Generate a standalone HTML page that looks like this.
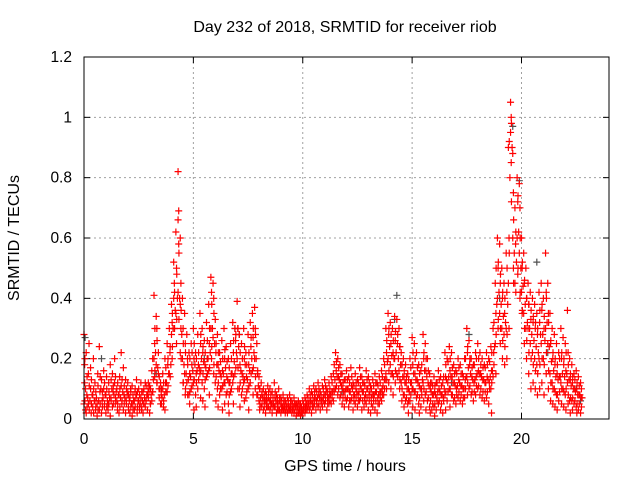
<!DOCTYPE html>
<html><head><meta charset="utf-8">
<style>
body{margin:0;background:#fff;}
svg{display:block;font-family:"Liberation Sans",sans-serif;}
</style></head>
<body>
<svg id="chart" width="640" height="480" viewBox="0 0 640 480">
<text x="345" y="32" font-size="16" text-anchor="middle" fill="#000">Day 232 of 2018, SRMTID for receiver riob</text>
<text x="345" y="471" font-size="16" text-anchor="middle" fill="#000">GPS time / hours</text>
<text transform="translate(19,238) rotate(-90)" font-size="16" text-anchor="middle" fill="#000">SRMTID / TECUs</text>
<g id="grid"></g>
<g id="ticks"></g>
<g id="marksB"></g>
<g id="marks"></g>
<rect x="84" y="57" width="525" height="362" fill="none" stroke="#000" stroke-width="1"/>
</svg>
<script>
const xTicks=[0,5,10,15,20];
const yTicks=[0,0.2,0.4,0.6,0.8,1,1.2];
const yTickLabels=["0","0.2","0.4","0.6","0.8","1","1.2"];
const srmtid=[
[0.0,[.28,.18,.05,.12]],[0.1,[.22,.08,.02]],[0.2,[.15,.25,.05]],[0.3,[.1,.02,.17]],[0.4,[.08,.2,.04]],[0.5,[.12,.03,.06]],[0.6,[.05,.15,.01]],[0.7,[.24,.09,.03]],[0.8,[.13,.06,.02]],[0.9,[.1,.04,.16]],
[1.0,[.08,.14,.02]],[1.1,[.05,.12,.03]],[1.2,[.18,.07,.01]],[1.3,[.15,.09,.04]],[1.4,[.12,.05,.2]],[1.5,[.1,.03,.06]],[1.6,[.08,.14,.02]],[1.7,[.22,.05,.11]],[1.8,[.17,.08,.03]],[1.9,[.13,.06,.02]],
[2.0,[.09,.04,.12]],[2.1,[.07,.1,.02]],[2.2,[.11,.05,.01]],[2.3,[.06,.09,.03]],[2.4,[.08,.02,.13]],[2.5,[.1,.04,.06]],[2.6,[.07,.03,.12]],[2.7,[.09,.05,.02]],[2.8,[.12,.06,.04]],[2.9,[.08,.1,.03]],
[3.0,[.11,.05,.02]],[3.1,[.16,.09,.06]],[3.2,[.41,.25,.2,.14]],[3.3,[.34,.3,.18,.12]],[3.4,[.22,.1,.15]],[3.5,[.12,.08,.05]],[3.6,[.15,.04,.1]],[3.7,[.2,.12,.03]],[3.8,[.25,.18,.09]],[3.9,[.3,.22,.15]],
[4.0,[.38,.32,.28,.2]],[4.1,[.52,.45,.4,.3]],[4.2,[.62,.5,.35,.25]],[4.3,[.82,.69,.66,.58,.42]],[4.4,[.6,.45,.38,.3,.22]],[4.5,[.4,.3,.2,.12]],[4.6,[.35,.25,.15,.08]],[4.7,[.28,.2,.12]],[4.8,[.22,.15,.08,.05]],[4.9,[.25,.18,.1]],
[5.0,[.3,.2,.12,.03]],[5.1,[.22,.15,.08,.04]],[5.2,[.28,.18,.1]],[5.3,[.35,.25,.15,.07]],[5.4,[.3,.22,.12,.06]],[5.5,[.26,.18,.1,.04]],[5.6,[.32,.2,.14]],[5.7,[.38,.25,.16,.08]],[5.8,[.47,.42,.3,.2]],[5.9,[.45,.4,.27,.15]],
[6.0,[.33,.22,.12,.06]],[6.1,[.28,.18,.1,.04]],[6.2,[.22,.15,.08]],[6.3,[.26,.16,.1,.03]],[6.4,[.3,.2,.12,.05]],[6.5,[.24,.14,.08]],[6.6,[.2,.12,.05,.02]],[6.7,[.25,.15,.09]],[6.8,[.32,.22,.12,.05]],[6.9,[.3,.26,.15]],
[7.0,[.39,.3,.2,.1]],[7.1,[.28,.18,.1,.04]],[7.2,[.25,.15,.08]],[7.3,[.3,.2,.12,.06]],[7.4,[.22,.14,.07]],[7.5,[.28,.18,.1,.03]],[7.6,[.32,.24,.12]],[7.7,[.35,.27,.16,.08]],[7.8,[.37,.3,.2,.1]],[7.9,[.25,.15,.08]],
[8.0,[.14,.1,.06,.03]],[8.1,[.12,.08,.04]],[8.2,[.1,.06,.03]],[8.3,[.09,.05,.02,.07]],[8.4,[.11,.07,.04]],[8.5,[.1,.06,.03]],[8.6,[.09,.05,.02]],[8.7,[.12,.07,.04]],[8.8,[.08,.05,.02]],[8.9,[.1,.06,.03]],
[9.0,[.07,.04,.02]],[9.1,[.08,.05,.03]],[9.2,[.06,.04,.02]],[9.3,[.07,.05,.02]],[9.4,[.08,.04,.03]],[9.5,[.06,.03,.02]],[9.6,[.07,.05,.02]],[9.7,[.05,.03,.01]],[9.8,[.06,.04,.02]],[9.9,[.05,.03,.01]],
[10.0,[.06,.04,.02]],[10.1,[.07,.04,.02]],[10.2,[.08,.05,.03]],[10.3,[.1,.06,.03]],[10.4,[.09,.05,.02]],[10.5,[.11,.07,.04]],[10.6,[.1,.06,.03]],[10.7,[.12,.08,.04]],[10.8,[.09,.06,.03]],[10.9,[.11,.07,.04]],
[11.0,[.13,.08,.05]],[11.1,[.1,.07,.03]],[11.2,[.12,.08,.05]],[11.3,[.14,.09,.05]],[11.4,[.15,.1,.06]],[11.5,[.22,.16,.1]],[11.6,[.2,.14,.08]],[11.7,[.18,.12,.07]],[11.8,[.15,.1,.05]],[11.9,[.13,.09,.04]],
[12.0,[.16,.1,.06]],[12.1,[.14,.09,.04]],[12.2,[.17,.11,.06]],[12.3,[.12,.08,.03]],[12.4,[.15,.1,.05]],[12.5,[.13,.08,.04]],[12.6,[.17,.11,.06]],[12.7,[.14,.09,.03]],[12.8,[.12,.07,.04]],[12.9,[.16,.1,.05]],
[13.0,[.14,.08,.03]],[13.1,[.11,.07,.02]],[13.2,[.13,.08,.04]],[13.3,[.15,.09,.03]],[13.4,[.12,.07,.02]],[13.5,[.14,.09,.05]],[13.6,[.16,.1,.06]],[13.7,[.2,.13,.08]],[13.8,[.3,.22,.15,.1]],[13.9,[.35,.28,.2,.12]],
[14.0,[.32,.25,.18,.1]],[14.1,[.3,.22,.15,.08]],[14.2,[.34,.26,.2,.12]],[14.3,[.33,.25,.15]],[14.4,[.3,.24,.16,.1]],[14.5,[.22,.18,.12,.06]],[14.6,[.2,.14,.08,.04]],[14.7,[.18,.12,.06]],[14.8,[.15,.1,.05,.02]],[14.9,[.2,.12,.06]],
[15.0,[.27,.18,.1,.04]],[15.1,[.25,.15,.09,.03]],[15.2,[.22,.13,.07]],[15.3,[.18,.11,.05,.02]],[15.4,[.16,.1,.04]],[15.5,[.28,.2,.12,.06]],[15.6,[.25,.16,.08,.03]],[15.7,[.2,.12,.06]],[15.8,[.15,.1,.04,.02]],[15.9,[.12,.08,.03]],
[16.0,[.14,.09,.04,.01]],[16.1,[.12,.07,.03]],[16.2,[.16,.1,.05]],[16.3,[.14,.08,.03]],[16.4,[.12,.07,.02]],[16.5,[.22,.14,.08,.03]],[16.6,[.2,.12,.06]],[16.7,[.24,.16,.1,.04]],[16.8,[.22,.14,.08]],[16.9,[.18,.12,.06]],
[17.0,[.16,.1,.05]],[17.1,[.2,.13,.07]],[17.2,[.18,.11,.06]],[17.3,[.15,.1,.05]],[17.4,[.2,.13,.07]],[17.5,[.3,.22,.14,.08]],[17.6,[.26,.18,.1]],[17.7,[.2,.14,.08]],[17.8,[.18,.12,.06]],[17.9,[.22,.14,.08]],
[18.0,[.25,.16,.1]],[18.1,[.22,.15,.08]],[18.2,[.2,.13,.07]],[18.3,[.18,.12,.06]],[18.4,[.22,.14,.07]],[18.5,[.2,.12,.05]],[18.6,[.24,.16,.1,.02]],[18.7,[.3,.22,.14]],[18.8,[.45,.35,.25,.15]],[18.9,[.6,.5,.4,.3]],
[19.0,[.58,.45,.35,.25]],[19.1,[.5,.4,.3,.2]],[19.2,[.45,.35,.28,.18]],[19.3,[.55,.42,.3,.2]],[19.4,[.9,.6,.45,.3]],[19.5,[1.05,1.0,.95,.85]],[19.6,[.88,.75,.6,.5]],[19.7,[.7,.58,.45]],[19.8,[.8,.72,.6,.48]],[19.9,[.78,.7,.55,.4]],
[20.0,[.6,.5,.42,.35]],[20.1,[.55,.45,.35,.25]],[20.2,[.5,.4,.3,.2]],[20.3,[.45,.38,.3,.15]],[20.4,[.42,.33,.25,.1]],[20.5,[.4,.32,.22,.12]],[20.6,[.38,.3,.2,.1]],[20.7,[.35,.28,.18,.08]],[20.8,[.42,.32,.2,.1]],[20.9,[.45,.36,.25,.12]],
[21.0,[.4,.3,.2,.08]],[21.1,[.55,.42,.3,.15]],[21.2,[.45,.35,.25,.1]],[21.3,[.35,.25,.15,.06]],[21.4,[.3,.2,.12,.05]],[21.5,[.28,.18,.1,.04]],[21.6,[.25,.15,.08,.03]],[21.7,[.22,.14,.06]],[21.8,[.3,.2,.12,.05]],[21.9,[.27,.18,.1,.04]],
[22.0,[.25,.16,.08,.03]],[22.1,[.36,.22,.12,.05]],[22.2,[.2,.13,.06,.02]],[22.3,[.18,.12,.06,.03]],[22.4,[.15,.1,.05]],[22.5,[.16,.1,.04,.02]],[22.6,[.14,.08,.03]],[22.7,[.12,.07,.02]]
];
const srmtidExtra=[
[0.05,[.2,.1,.06,.03]],[0.15,[.14,.07,.04]],[0.25,[.11,.06,.03]],[0.35,[.13,.08,.05]],[0.45,[.1,.06,.02]],[0.55,[.09,.07,.04]],[0.65,[.11,.06,.03]],[0.75,[.14,.1,.05]],[0.85,[.09,.07,.04]],[0.95,[.12,.08,.05]],
[1.05,[.1,.06,.04]],[1.15,[.09,.07,.05]],[1.25,[.13,.1,.06]],[1.35,[.11,.08,.05]],[1.45,[.14,.09,.07]],[1.55,[.12,.08,.05]],[1.65,[.1,.07,.04]],[1.75,[.13,.09,.06]],[1.85,[.11,.07,.05]],[1.95,[.1,.08,.05]],
[2.05,[.08,.06,.03]],[2.15,[.09,.05,.04]],[2.25,[.08,.06,.03]],[2.35,[.1,.07,.04]],[2.45,[.09,.06,.04]],[2.55,[.08,.05,.03]],[2.65,[.09,.06,.04]],[2.75,[.1,.07,.05]],[2.85,[.11,.08,.06]],[2.95,[.12,.09,.07]],
[3.05,[.1,.08,.05]],[3.15,[.2,.13,.09]],[3.25,[.3,.22,.16]],[3.35,[.26,.17,.12]],[3.45,[.14,.1,.07]],[3.55,[.1,.07,.05]],[3.65,[.12,.08,.06]],[3.75,[.17,.12,.09]],[3.85,[.2,.15,.11]],[3.95,[.24,.18,.14]],
[4.05,[.35,.3,.24]],[4.15,[.42,.36,.3]],[4.25,[.48,.4,.33]],[4.35,[.55,.4,.33]],[4.45,[.36,.28,.2]],[4.55,[.25,.18,.12]],[4.65,[.22,.15,.1]],[4.75,[.18,.13,.08]],[4.85,[.2,.14,.09]],[4.95,[.22,.16,.11]],
[5.05,[.25,.18,.13]],[5.15,[.2,.16,.12]],[5.25,[.22,.17,.13]],[5.35,[.28,.2,.16]],[5.45,[.24,.19,.15]],[5.55,[.22,.17,.13]],[5.65,[.26,.2,.15]],[5.75,[.3,.22,.17]],[5.85,[.38,.3,.24]],[5.95,[.35,.25,.18]],
[6.05,[.25,.18,.14]],[6.15,[.22,.16,.12]],[6.25,[.19,.14,.1]],[6.35,[.2,.15,.11]],[6.45,[.23,.17,.12]],[6.55,[.19,.13,.09]],[6.65,[.17,.12,.08]],[6.75,[.2,.15,.1]],[6.85,[.26,.19,.14]],[6.95,[.28,.22,.17]],
[7.05,[.3,.24,.17]],[7.15,[.22,.16,.12]],[7.25,[.2,.14,.1]],[7.35,[.24,.18,.13]],[7.45,[.18,.13,.09]],[7.55,[.22,.16,.11]],[7.65,[.27,.2,.15]],[7.75,[.3,.22,.17]],[7.85,[.28,.2,.14]],[7.95,[.16,.11,.08]],
[8.05,[.1,.07,.05]],[8.15,[.09,.07,.05]],[8.25,[.08,.06,.04]],[8.35,[.08,.06,.04]],[8.45,[.09,.06,.04]],[8.55,[.08,.05,.04]],[8.65,[.07,.05,.04]],[8.75,[.09,.06,.04]],[8.85,[.07,.05,.03]],[8.95,[.07,.05,.03]],
[9.05,[.06,.04,.03]],[9.15,[.06,.04,.03]],[9.25,[.05,.04,.03]],[9.35,[.06,.04,.03]],[9.45,[.06,.04,.03]],[9.55,[.05,.04,.03]],[9.65,[.05,.04,.03]],[9.75,[.05,.04,.02]],[9.85,[.05,.03,.02]],[9.95,[.04,.03,.02]],
[10.05,[.05,.04,.03]],[10.15,[.06,.05,.03]],[10.25,[.07,.05,.04]],[10.35,[.08,.06,.04]],[10.45,[.08,.06,.04]],[10.55,[.09,.07,.05]],[10.65,[.09,.07,.05]],[10.75,[.1,.07,.05]],[10.85,[.08,.06,.05]],[10.95,[.1,.08,.06]],
[11.05,[.11,.09,.06]],[11.15,[.09,.07,.05]],[11.25,[.1,.08,.06]],[11.35,[.12,.09,.07]],[11.45,[.18,.13,.09]],[11.55,[.19,.14,.11]],[11.65,[.17,.13,.1]],[11.75,[.15,.11,.08]],[11.85,[.12,.09,.07]],[11.95,[.13,.1,.07]],
[12.05,[.13,.1,.07]],[12.15,[.12,.09,.06]],[12.25,[.14,.1,.07]],[12.35,[.11,.08,.06]],[12.45,[.12,.09,.07]],[12.55,[.12,.09,.06]],[12.65,[.14,.1,.07]],[12.75,[.12,.09,.06]],[12.85,[.11,.08,.06]],[12.95,[.13,.1,.07]],
[13.05,[.12,.09,.06]],[13.15,[.1,.08,.05]],[13.25,[.11,.08,.06]],[13.35,[.12,.09,.06]],[13.45,[.11,.08,.05]],[13.55,[.12,.09,.07]],[13.65,[.14,.11,.08]],[13.75,[.18,.13,.1]],[13.85,[.26,.19,.13]],[13.95,[.3,.24,.16]],
[14.05,[.28,.21,.15]],[14.15,[.26,.2,.14]],[14.25,[.29,.22,.16]],[14.35,[.28,.2,.14]],[14.45,[.24,.18,.13]],[14.55,[.18,.14,.1]],[14.65,[.16,.12,.08]],[14.75,[.14,.1,.07]],[14.85,[.13,.09,.06]],[14.95,[.17,.12,.08]],
[15.05,[.22,.15,.1]],[15.15,[.2,.13,.09]],[15.25,[.17,.12,.08]],[15.35,[.15,.1,.07]],[15.45,[.18,.13,.08]],[15.55,[.22,.16,.1]],[15.65,[.2,.14,.09]],[15.75,[.16,.11,.07]],[15.85,[.12,.09,.06]],[15.95,[.11,.08,.05]],
[16.05,[.11,.08,.05]],[16.15,[.12,.09,.06]],[16.25,[.13,.09,.06]],[16.35,[.11,.08,.05]],[16.45,[.14,.1,.06]],[16.55,[.18,.13,.09]],[16.65,[.19,.14,.09]],[16.75,[.2,.14,.1]],[16.85,[.17,.12,.08]],[16.95,[.15,.11,.07]],
[17.05,[.15,.11,.08]],[17.15,[.17,.12,.09]],[17.25,[.15,.11,.08]],[17.35,[.14,.1,.07]],[17.45,[.2,.14,.1]],[17.55,[.24,.17,.12]],[17.65,[.2,.15,.11]],[17.75,[.17,.13,.09]],[17.85,[.18,.13,.09]],[17.95,[.2,.15,.11]],
[18.05,[.2,.15,.11]],[18.15,[.18,.14,.1]],[18.25,[.17,.13,.09]],[18.35,[.17,.12,.09]],[18.45,[.18,.13,.09]],[18.55,[.19,.14,.1]],[18.65,[.22,.16,.12]],[18.75,[.32,.24,.18]],[18.85,[.5,.38,.28]],[18.95,[.52,.42,.33]],
[19.05,[.48,.38,.3]],[19.15,[.42,.34,.26]],[19.25,[.4,.32,.24]],[19.35,[.5,.38,.28]],[19.45,[.92,.8,.55]],[19.55,[.98,.9,.72]],[19.65,[.66,.55,.45]],[19.75,[.62,.52,.42]],[19.85,[.74,.62,.5]],[19.95,[.6,.5,.42]],
[20.05,[.52,.44,.36]],[20.15,[.46,.38,.3]],[20.25,[.4,.32,.26]],[20.35,[.38,.3,.22]],[20.45,[.36,.28,.2]],[20.55,[.34,.26,.18]],[20.65,[.32,.24,.16]],[20.75,[.3,.22,.15]],[20.85,[.36,.28,.18]],[20.95,[.38,.28,.2]],
[21.05,[.34,.26,.18]],[21.15,[.4,.32,.22]],[21.25,[.32,.24,.16]],[21.35,[.26,.19,.12]],[21.45,[.22,.16,.1]],[21.55,[.2,.14,.09]],[21.65,[.18,.13,.08]],[21.75,[.2,.14,.09]],[21.85,[.22,.15,.1]],[21.95,[.2,.14,.09]],
[22.05,[.22,.15,.1]],[22.15,[.18,.13,.08]],[22.25,[.15,.11,.07]],[22.35,[.14,.1,.07]],[22.45,[.13,.09,.06]],[22.55,[.12,.08,.05]],[22.65,[.11,.08,.05]],[22.75,[.1,.07,.04]]
];
const srmtidDark=[[0.05,.27],[0.8,.2],[6.9,.3],[7.1,.28],[14.3,.41],[14.2,.33],[16.8,.12],[19.6,.97],[19.9,.79],[20.7,.52],[21.2,.22],[22.5,.1],[3.3,.15],[5.5,.2],[11.8,.09],[17.6,.28],[19.0,.4],[22.7,.06]];

const X0=84,X1=609,Y0=419,Y1=57,XMAX=24,YMAX=1.2;
const sx=t=>X0+(X1-X0)*t/XMAX;
const sy=v=>Y0-(Y0-Y1)*v/YMAX;
const NS="http://www.w3.org/2000/svg";
function mk(tag,attrs,parent){const e=document.createElementNS(NS,tag);for(const k in attrs)e.setAttribute(k,attrs[k]);parent.appendChild(e);return e;}
const grid=document.getElementById('grid'),ticks=document.getElementById('ticks');
xTicks.forEach(t=>{
  const x=sx(t);
  if(t>0){const g=mk('line',{x1:x,x2:x,y1:Y1,y2:Y0,stroke:'#a0a0a0','stroke-dasharray':'2,3'},grid);
  
  }
  mk('line',{x1:x,x2:x,y1:Y0,y2:Y0-6,stroke:'#000'},ticks);
  mk('line',{x1:x,x2:x,y1:Y1,y2:Y1+6,stroke:'#000'},ticks);
  const l=mk('text',{x:x,y:Y0+25,'font-size':15.5,'text-anchor':'middle'},ticks);l.textContent=t;
  
  
});
yTicks.forEach((v,i)=>{
  const y=sy(v);
  if(v>0&&v<YMAX){const g=mk('line',{x1:X0,x2:X1,y1:y,y2:y,stroke:'#a0a0a0','stroke-dasharray':'2,3'},grid);
  
  }
  mk('line',{x1:X0,x2:X0+6,y1:y,y2:y,stroke:'#000'},ticks);
  mk('line',{x1:X1,x2:X1-6,y1:y,y2:y,stroke:'#000'},ticks);
  const l=mk('text',{x:X0-12,y:y+5,'font-size':15.5,'text-anchor':'end'},ticks);l.textContent=yTickLabels[i];
  
  
});
function plus(g,t,v,col){
  const x=sx(t),y=sy(v);
  const p=mk('path',{d:`M${x-3.5},${y}h7M${x},${y-3.5}v7`,stroke:col,'stroke-width':1.2,fill:'none'},g);
  
  
}
const gB=document.getElementById('marksB');
srmtidDark.forEach(([t,v])=>plus(gB,t,v,'#505050'));
const gR=document.getElementById('marks');
srmtid.forEach(([t,vals])=>vals.forEach((v,j)=>plus(gR,t+(j%2?0.03:0),v,'#ff0000')));
srmtidExtra.forEach(([t,vals])=>vals.forEach((v,j)=>plus(gR,t+(j%2?0.02:-0.01),v,'#ff0000')));
</script>
</body></html>
